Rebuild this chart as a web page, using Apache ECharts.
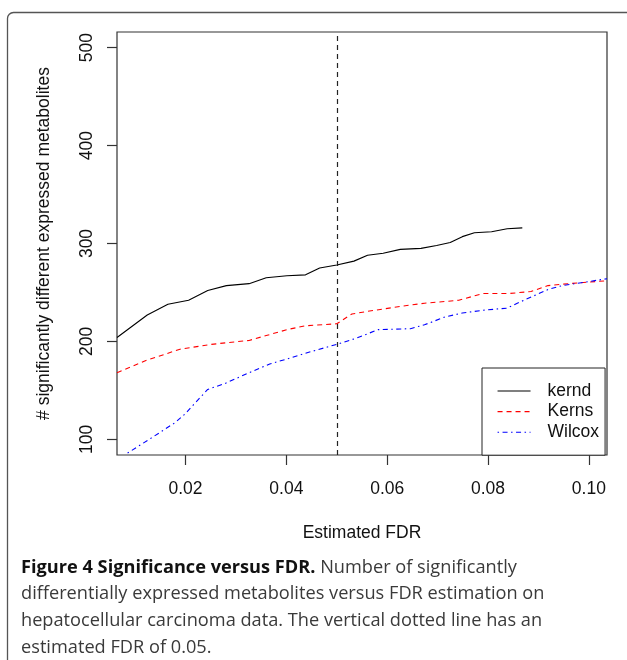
<!doctype html>
<html>
<head>
    <meta charset="utf-8">
    <title>Significance versus FDR</title>
    <script src="https://cdn.jsdelivr.net/npm/echarts@6/dist/echarts.min.js"></script>
    <style>
        html, body { margin: 0; padding: 0; background: #fff; }
        #chart { width: 627px; height: 660px; }
    </style>
</head>
<body>
<div id="chart"></div>
<script type="text/javascript">
    // values
    var fdrKernd = [0.0064, 0.0124, 0.0165, 0.0206, 0.0244, 0.0281, 0.0326, 0.0360, 0.0401, 0.0438, 0.0466, 0.0500,
        0.0534, 0.0561, 0.0592, 0.0626, 0.0667, 0.0698, 0.0725, 0.0749, 0.0773, 0.0807, 0.0838, 0.0868];
    var countKernd = [204, 227, 238, 242, 252, 257, 259, 265, 267, 268, 275, 278,
        282, 288, 290, 294, 295, 298, 301, 307, 311, 312, 315, 316];

    var fdrKerns = [0.0064, 0.0124, 0.0189, 0.0251, 0.0326, 0.0360, 0.0401, 0.0438, 0.0500, 0.0530,
        0.0565, 0.0629, 0.0674, 0.0742, 0.0790, 0.0844, 0.0885, 0.0919, 0.0960, 0.1036];
    var countKerns = [168, 181, 192, 197, 201, 206, 212, 216, 218, 228,
        231, 236, 239, 242, 249, 249, 251, 257, 259, 262];

    var fdrWilcox = [0.0085, 0.0128, 0.0179, 0.0199, 0.0244, 0.0278, 0.0326, 0.0367, 0.0401, 0.0438, 0.0500, 0.0537,
        0.0582, 0.0646, 0.0674, 0.0715, 0.0749, 0.0793, 0.0838, 0.0858, 0.0919, 0.0947, 0.1036];
    var countWilcox = [86, 100, 117, 126, 151, 157, 168, 177, 182, 188, 197, 203,
        212, 213, 217, 225, 229, 232, 234, 239, 253, 257, 264];

    var xTicks = [0.02, 0.04, 0.06, 0.08, 0.10];
    var yTicks = [100, 200, 300, 400, 500];
    var fdrCutoff = 0.05;

    function pairs(xs, ys) {
        var out = [];
        for (var i = 0; i < xs.length; i++) out.push([xs[i], ys[i]]);
        return out;
    }

    var rFont = 'Liberation Sans';
    var capFont = 'Open Sans';

    var myChart = echarts.init(document.getElementById('chart'), null, {renderer: 'canvas'});
    var option = {
        animation: false,
        backgroundColor: '#fff',
        title: {
            left: 21,
            top: 554,
            padding: 0,
            text: '{b|Figure 4 Significance versus FDR.} Number of significantly\n' +
                'differentially expressed metabolites versus FDR estimation on\n' +
                'hepatocellular carcinoma data. The vertical dotted line has an\n' +
                'estimated FDR of 0.05.',
            textStyle: {
                fontFamily: capFont, fontSize: 18.2, fontWeight: 'normal', color: '#3a3a3a', lineHeight: 26.7,
                rich: {
                    b: {fontFamily: capFont, fontSize: 18.2, fontWeight: 'bold', color: '#111', lineHeight: 26.7}
                }
            }
        },
        graphic: [
            {
                type: 'rect',
                z: -10,
                shape: {x: 7.5, y: 12.5, width: 700, height: 700, r: 6},
                style: {fill: 'none', stroke: '#555', lineWidth: 1.3}
            }
        ],
        legend: {
            orient: 'vertical',
            left: 482,
            top: 368,
            padding: [13, 6, 13, 15],
            itemWidth: 33,
            itemHeight: 20,
            itemGap: 0.6,
            itemStyle: {opacity: 0},
            lineStyle: {width: 1.1},
            backgroundColor: '#fff',
            borderColor: '#222',
            borderWidth: 1,
            borderRadius: 0,
            textStyle: {fontFamily: rFont, fontSize: 17.5, color: '#111', lineHeight: 20, padding: [0, 0, 0, 12]},
            data: ['kernd', 'Kerns', 'Wilcox']
        },
        grid: {
            left: 117, top: 32, width: 490, height: 423,
            show: true, borderColor: '#333', borderWidth: 1.2
        },
        xAxis: {
            type: 'value',
            min: 0.0064,
            max: 0.1036,
            name: 'Estimated FDR',
            nameLocation: 'middle',
            nameGap: 69,
            nameTextStyle: {fontFamily: rFont, fontSize: 17.5, color: '#111'},
            axisLine: {show: false},
            splitLine: {show: false},
            axisTick: {show: true, inside: false, length: 10, customValues: xTicks, lineStyle: {color: '#333', width: 1.2}},
            axisLabel: {
                customValues: xTicks, margin: 25,
                fontFamily: rFont, fontSize: 17.5, color: '#111',
                formatter: function (v) { return v.toFixed(2); }
            }
        },
        yAxis: {
            type: 'value',
            min: 84,
            max: 516,
            name: '# significantly different expressed metabolites',
            nameLocation: 'middle',
            nameRotate: 90,
            nameGap: 64,
            nameTextStyle: {fontFamily: rFont, fontSize: 17.5, color: '#111'},
            axisLine: {show: false},
            splitLine: {show: false},
            axisTick: {show: true, inside: false, length: 10, customValues: yTicks, lineStyle: {color: '#333', width: 1.2}},
            axisLabel: {
                customValues: yTicks, rotate: 90, margin: 21,
                fontFamily: rFont, fontSize: 17.5, color: '#111'
            }
        },
        series: [
            {
                name: 'kernd',
                type: 'line',
                symbol: 'none',
                data: pairs(fdrKernd, countKernd),
                lineStyle: {color: '#000', width: 1.1, type: 'solid'},
                itemStyle: {color: '#000'},
                markLine: {
                    silent: true,
                    symbol: ['none', 'none'],
                    label: {show: false},
                    lineStyle: {color: '#222', width: 1.2, type: [5, 4]},
                    data: [{xAxis: fdrCutoff}]
                }
            },
            {
                name: 'Kerns',
                type: 'line',
                symbol: 'none',
                data: pairs(fdrKerns, countKerns),
                lineStyle: {color: '#ff0000', width: 1.1, type: [5, 4]},
                itemStyle: {color: '#ff0000'}
            },
            {
                name: 'Wilcox',
                type: 'line',
                symbol: 'none',
                data: pairs(fdrWilcox, countWilcox),
                lineStyle: {color: '#0000ff', width: 1.1, type: [1.5, 3.5, 5, 3.5]},
                itemStyle: {color: '#0000ff'}
            }
        ]
    };
    myChart.setOption(option);
</script>
</body>
</html>
